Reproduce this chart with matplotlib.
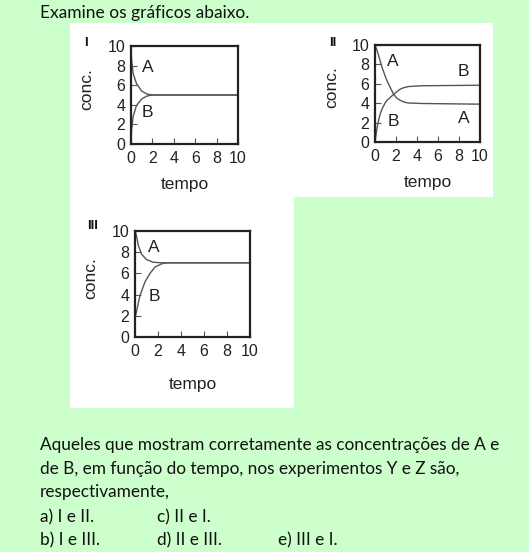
import matplotlib
matplotlib.use("Agg")
import matplotlib.pyplot as plt
from matplotlib.patches import Rectangle

W, H = 529, 552

# values
ticks = [0, 2, 4, 6, 8, 10]

t1 = [0, 0.06, 0.2, 0.5, 1.0, 1.5, 2.0, 10]
a1 = [10, 8.5, 7.2, 6.2, 5.4, 5.1, 5.0, 5.0]
b1 = [0, 1.5, 2.8, 3.9, 4.6, 4.9, 5.0, 5.0]

t2 = [0, 0.2, 0.35, 0.5, 0.67, 1.0, 1.15, 1.5, 1.78, 2.1, 2.4, 2.8, 3.2, 4.5, 10]
a2 = [10, 9.4, 8.9, 8.3, 7.7, 6.7, 6.3, 5.5, 4.9, 4.5, 4.3, 4.1, 4.02, 3.97, 3.9]
b2 = [0, 1.5, 2.3, 2.9, 3.4, 4.1, 4.3, 4.65, 4.9, 5.2, 5.45, 5.62, 5.72, 5.8, 5.85]

t3 = [0, 0.1, 0.3, 0.58, 1.0, 1.6, 2.3, 2.75, 10]
a3 = [10, 9.7, 8.6, 7.8, 7.3, 7.05, 7.0, 7.0, 7.0]
t3b = [0.05, 0.43, 0.87, 1.3, 1.74, 2.3, 2.75, 10]
b3 = [2.0, 3.9, 5.2, 6.0, 6.6, 6.9, 7.0, 7.0]

question = ("Aqueles que mostram corretamente as concentrações de A e\n"
            "de B, em função do tempo, nos experimentos Y e Z são,\n"
            "respectivamente,")
options = [("a) I e II.", 0, 0), ("c) II e I.", 1, 0),
           ("b) I e III.", 0, 1), ("d) II e III.", 1, 1), ("e) III e I.", 2, 1)]

BG = "#ccffcc"
fig = plt.figure(figsize=(W / 100, H / 100), dpi=100)
fig.patch.set_facecolor(BG)


def fx(x):
    return x / W


def fy(y):
    return 1 - y / H


# white panels
for x0, y0, x1, y1 in [(70, 23, 493, 197), (70, 197, 294, 408)]:
    fig.patches.append(Rectangle((fx(x0), fy(y1)), fx(x1 - x0), (y1 - y0) / H,
                                 transform=fig.transFigure, facecolor="white",
                                 edgecolor="none", zorder=-5))

chart_font = "Liberation Sans"
text_font = "Lato"


def make_axes(box, roman, roman_xy, series, labels, ylab_x, xlab_off):
    l, t, r, b = box
    ax = fig.add_axes([fx(l), fy(b), fx(r - l), (b - t) / H])
    ax.set_zorder(2)
    ax.set_xlim(0, 10)
    ax.set_ylim(0, 10)
    for tt, vv in series:
        ax.plot(tt, vv, color="#555555", lw=1.0)
    for s in ax.spines.values():
        s.set_linewidth(1.6)
        s.set_color("#222222")
    ax.set_xticks(ticks)
    ax.set_yticks(ticks)
    ax.tick_params(direction="in", length=4, width=0.8, color="#555555",
                   labelsize=11.5, pad=4)
    ax.tick_params(axis="x", pad=5)
    for lab in ax.get_xticklabels() + ax.get_yticklabels():
        lab.set_fontfamily(chart_font)
        lab.set_color("#222222")
    for txt, x, y in labels:
        ax.text(x, y, txt, fontsize=12.5, family=chart_font, color="#222222",
                ha="left", va="center")
    ax.set_facecolor("white")
    fig.text(fx((l + r) / 2), fy(b + xlab_off), "tempo", fontsize=12.5,
             family=chart_font, ha="center", va="center", color="#222222")
    fig.text(fx(ylab_x), fy((t + b) / 2 - 6), "conc.", fontsize=12.5,
             family=chart_font, ha="center", va="center", rotation=90,
             color="#222222")
    fig.text(fx(roman_xy[0]), fy(roman_xy[1]), roman, fontsize=9.5,
             family=chart_font, weight="bold", ha="center", va="center",
             color="#111111")
    return ax


make_axes((131, 46, 238, 144), "I", (86, 43),
          [(t1, a1), (t1, b1)],
          [("A", 1.0, 7.8), ("B", 1.0, 3.2)], 87, 41)
make_axes((375, 45, 480, 142), "II", (333, 43),
          [(t2, a2), (t2, b2)],
          [("A", 1.1, 8.3), ("B", 1.2, 2.1), ("B", 7.9, 7.3), ("A", 7.9, 2.4)], 332, 41)
make_axes((135, 231, 250, 337), "III", (93, 226),
          [(t3, a3), (t3b, b3)],
          [("A", 1.15, 8.4), ("B", 1.2, 3.8)], 91, 48)

fig.text(fx(40), fy(13), "Examine os gráficos abaixo.", fontsize=12.5,
         family=text_font, ha="left", va="center", color="#111111")

for i, line in enumerate(question.split("\n")):
    fig.text(fx(40), fy(445 + 23.7 * i), line, fontsize=12.4, family=text_font,
             ha="left", va="center", color="#111111")

col_x = [40, 157, 278]
for txt, c, r in options:
    fig.text(fx(col_x[c]), fy(517 + 23.5 * r), txt, fontsize=12.4,
             family=text_font, ha="left", va="center", color="#111111")

fig.savefig("out.png", dpi=100, facecolor=BG)
